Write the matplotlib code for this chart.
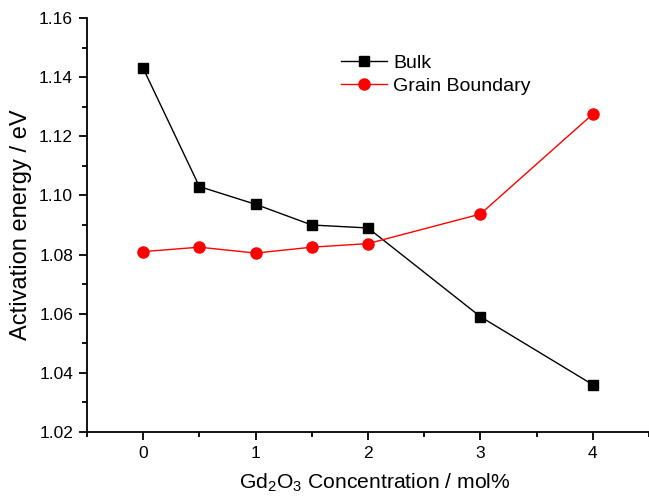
import matplotlib.pyplot as plt
from matplotlib.ticker import MultipleLocator

plt.rcParams['font.family'] = ['Liberation Sans', 'DejaVu Sans']
plt.rcParams['mathtext.fontset'] = 'custom'
plt.rcParams['mathtext.rm'] = 'Liberation Sans'
plt.rcParams['mathtext.it'] = 'Liberation Sans:italic'
plt.rcParams['mathtext.default'] = 'rm'

concentration = [0, 0.5, 1, 1.5, 2, 3, 4]
bulk = [1.143, 1.103, 1.097, 1.090, 1.089, 1.059, 1.036]
grain_boundary = [1.081, 1.0825, 1.0805, 1.0825, 1.0837, 1.0937, 1.1275]

fig = plt.figure(figsize=(6.49, 5.0), dpi=100)
ax = fig.add_axes([0.134, 0.136, 0.866, 0.828])

ax.plot(concentration, bulk, color='black', marker='s', markersize=7,
        linewidth=1, label='Bulk')
ax.plot(concentration, grain_boundary, color='red', marker='o', markersize=8,
        linewidth=1, label='Grain Boundary')

ax.set_xlim(-0.5, 4.5)
ax.set_ylim(1.02, 1.16)
ax.xaxis.set_major_locator(MultipleLocator(1))
ax.xaxis.set_minor_locator(MultipleLocator(0.5))
ax.yaxis.set_major_locator(MultipleLocator(0.02))
ax.yaxis.set_minor_locator(MultipleLocator(0.01))
ax.yaxis.set_major_formatter(plt.FormatStrFormatter('%.2f'))

for side in ['top', 'right']:
    ax.spines[side].set_visible(False)
for side in ['left', 'bottom']:
    ax.spines[side].set_linewidth(1.3)

ax.tick_params(which='major', direction='out', length=6, width=1.3,
               labelsize=12.5, pad=4)
ax.tick_params(which='minor', direction='out', length=3.5, width=1.3)

ax.set_xlabel('Gd$_2$O$_3$ Concentration / mol%', fontsize=15.2)
ax.xaxis.set_label_coords(0.513, -0.095)
ax.set_ylabel('Activation energy / eV', fontsize=17, labelpad=5)

ax.legend(loc='upper left', bbox_to_anchor=(0.42, 0.955), frameon=False,
          fontsize=14, handlelength=2.4, handletextpad=0.3, labelspacing=0.3)

fig.savefig('out.png', dpi=100)
